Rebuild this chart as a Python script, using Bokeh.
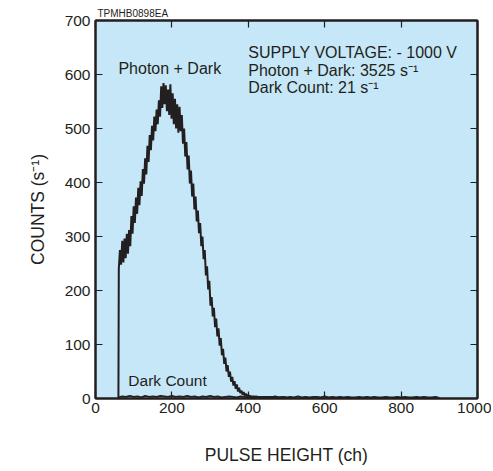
from bokeh.plotting import figure
from bokeh.models import LinearAxis, FixedTicker, Range1d, Label
from bokeh.embed import file_html
from bokeh.resources import INLINE

# Photon + Dark spectrum (channel, counts/s)
photon_ch = [60, 61, 64, 67, 70, 73, 76, 79, 82, 85, 88, 91, 94, 97, 100, 103, 106, 109, 112, 115, 118,
             121, 124, 127, 130, 133, 136, 139, 142, 145, 148, 151, 154, 157, 160, 163, 166, 169, 172,
             175, 178, 181, 184, 187, 190, 193, 196, 199, 202, 205, 208, 211, 214, 217, 220, 223, 226,
             229, 232, 235, 238, 241, 244, 247, 250, 253, 256, 259, 262, 265, 268, 271, 274, 277, 280,
             283, 286, 289, 292, 295, 298, 301, 304, 307, 310, 313, 316, 319, 322, 325, 328, 331, 334,
             337, 340, 343, 346, 349, 352, 355, 358, 361, 364, 367, 370, 373, 376, 379, 382, 385, 388,
             391, 394, 397, 400, 403, 406, 409, 412, 415, 418, 430, 445, 460, 480, 500]
photon_counts = [0, 240, 275, 248, 292, 252, 296, 260, 305, 268, 312, 282, 338, 305, 356, 325, 372, 342, 390,
                 358, 402, 375, 425, 398, 445, 415, 468, 438, 488, 460, 505, 478, 522, 495, 535, 508, 552,
                 522, 578, 538, 584, 545, 580, 532, 572, 525, 582, 518, 565, 508, 555, 500, 545, 492, 540,
                 495, 525, 472, 500, 448, 475, 424, 450, 398, 422, 374, 398, 350, 374, 328, 348, 306, 325,
                 282, 300, 258, 275, 228, 245, 202, 218, 172, 188, 152, 168, 132, 148, 115, 130, 98, 112,
                 80, 92, 64, 76, 50, 62, 40, 50, 31, 40, 24, 32, 18, 26, 13, 20, 10, 15, 7, 12, 5, 9, 4, 7,
                 3, 5, 2, 4, 2, 3, 3, 2, 3, 2, 2]

# Dark count spectrum
dark_ch = [60, 70, 80, 90, 100, 110, 120, 130, 140, 150, 160, 170, 180, 190, 200, 210, 220, 230, 240, 250,
           260, 270, 280, 290, 300, 310, 320, 330, 340, 350, 360, 370, 380, 390, 400, 410, 420, 430, 440,
           450, 460, 470, 480, 490, 500, 510, 520, 530, 540, 550, 560, 570, 580, 590, 600, 610, 620, 630,
           640, 650, 660, 670, 680, 690, 700, 710, 720, 730, 740, 750, 760, 770, 780, 790, 800, 810, 820,
           830, 840, 850, 860, 870, 880, 890, 900]
dark_counts = [2, 4, 3, 5, 3, 4, 2, 5, 3, 4, 3, 5, 4, 3, 5, 3, 4, 3, 5, 3, 4, 2, 4, 3, 5, 3, 4, 2, 3, 4,
               3, 2, 4, 3, 2, 3, 4, 2, 3, 3, 2, 4, 2, 3, 2, 3, 2, 4, 2, 3, 2, 3, 3, 2, 4, 2, 3, 2, 3, 2,
               3, 2, 2, 3, 2, 3, 2, 3, 2, 2, 3, 2, 2, 3, 2, 3, 2, 2, 3, 2, 3, 2, 2, 3, 1]

x_ticks = [0, 200, 400, 600, 800, 1000]
y_ticks = [0, 100, 200, 300, 400, 500, 600, 700]

FONT = "Liberation Sans"
INK = "#231F20"
BG = "#C6E7F7"

p = figure(frame_width=382, frame_height=378, output_backend="svg", toolbar_location=None,
           x_range=Range1d(0, 1000), y_range=Range1d(0, 700),
           min_border_left=95, min_border_top=20, min_border_right=14, min_border_bottom=66,
           background_fill_color=BG, border_fill_color="white")
p.grid.visible = False
p.outline_line_color = INK
p.outline_line_width = 2

p.title.text = "TPMHB0898EA"
p.title.text_font = FONT
p.title.text_font_size = "10px"
p.title.text_font_style = "normal"
p.title.text_color = INK
p.title.align = "left"
p.title.offset = 2
p.title.standoff = 4

p.line(dark_ch, dark_counts, line_color=INK, line_width=1.8)
p.line(photon_ch, photon_counts, line_color=INK, line_width=2)

def style_axis(ax, ticks, show_labels=True):
    ax.ticker = FixedTicker(ticks=ticks)
    ax.axis_line_color = INK
    ax.axis_line_width = 2
    ax.major_tick_in = 7
    ax.major_tick_out = 0
    ax.major_tick_line_color = INK
    ax.major_tick_line_width = 1.2
    ax.minor_tick_line_color = None
    ax.major_label_text_font = FONT
    ax.major_label_text_font_size = "15.5px"
    ax.major_label_text_color = INK
    ax.axis_label_text_font = FONT
    ax.axis_label_text_font_size = "17.5px"
    ax.axis_label_text_font_style = "normal"
    ax.axis_label_text_color = INK
    if not show_labels:
        ax.major_label_text_font_size = "0px"
        ax.major_label_text_color = None

xa = p.xaxis[0]
style_axis(xa, x_ticks)
xa.axis_label = "PULSE HEIGHT (ch)"
xa.major_label_standoff = 4
xa.axis_label_standoff = 29

ya = p.yaxis[0]
style_axis(ya, y_ticks)
ya.axis_label = "COUNTS (s\u207b\u00b9)"
ya.major_label_standoff = 5
ya.axis_label_standoff = 14

top = LinearAxis()
style_axis(top, x_ticks, show_labels=False)
p.add_layout(top, "above")
right = LinearAxis()
style_axis(right, y_ticks, show_labels=False)
p.add_layout(right, "right")

def lab(x, y, text, size="16px"):
    p.add_layout(Label(x=x, y=y, text=text, text_font=FONT,
                       text_font_size=size, text_color=INK, text_baseline="middle"))

lab(60, 611, "Photon + Dark")
lab(86, 34, "Dark Count", size="15.5px")
lab(400, 641, "SUPPLY VOLTAGE: - 1000 V")
lab(400, 608, "Photon + Dark: 3525 s\u207b\u00b9")
lab(400, 576, "Dark Count: 21 s\u207b\u00b9")

open("out.html", "w").write(file_html(p, INLINE))
